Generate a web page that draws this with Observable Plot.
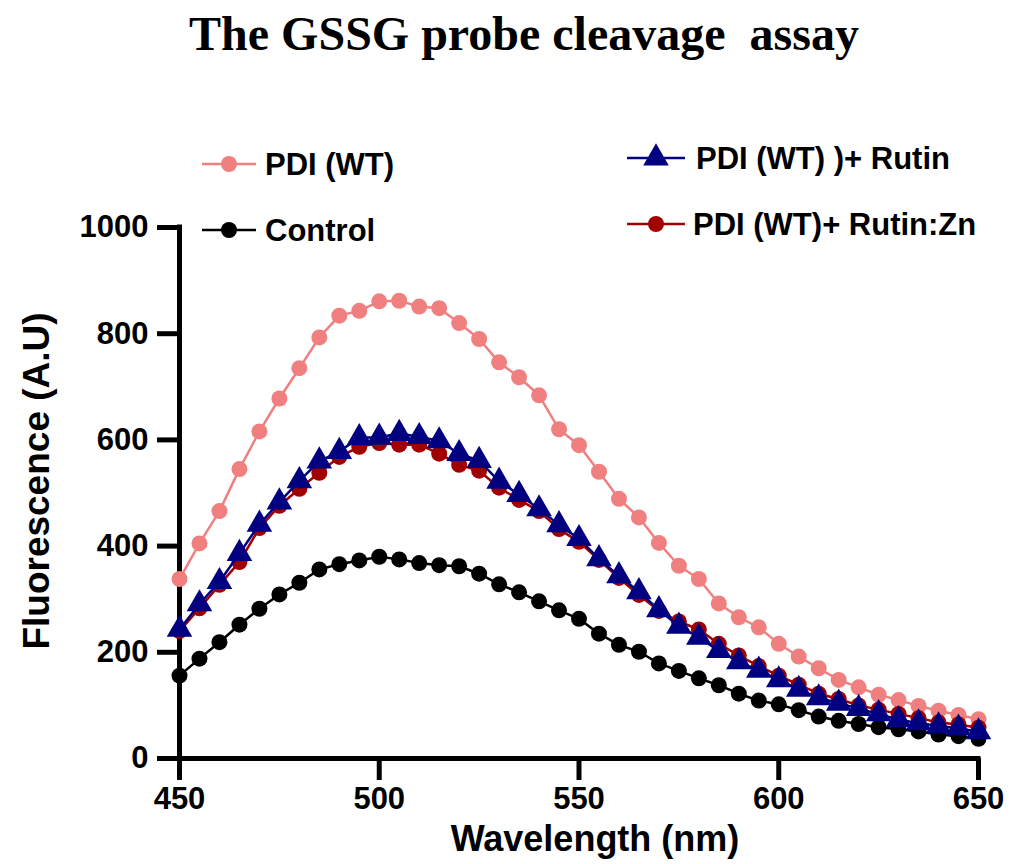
<!DOCTYPE html>
<html>
<head>
<meta charset="utf-8">
<script src="https://cdn.jsdelivr.net/npm/d3@7"></script>
<script src="https://cdn.jsdelivr.net/npm/@observablehq/plot@0.6"></script>
<style>
  html, body { margin: 0; padding: 0; background: #fff; }
</style>
</head>
<body>
<div id="chart"></div>
<script>
const wavelength = [450,455,460,465,470,475,480,485,490,495,500,505,510,515,520,525,530,535,540,545,550,555,560,565,570,575,580,585,590,595,600,605,610,615,620,625,630,635,640,645,650];
const pdiWT = [338,405,466,545,616,678,735,793,834,843,861,862,851,848,820,790,746,718,684,620,590,540,489,454,406,363,338,292,266,247,216,192,170,148,134,120,110,99,90,82,74];
const pdiRutin = [243,291,333,386,441,483,523,560,578,604,605,612,606,598,574,561,522,497,470,440,414,376,344,314,280,249,228,203,182,166,148,130,114,104,94,84,73,67,61,57,50];
const pdiRutinZn = [240,283,327,370,434,476,508,538,568,587,594,591,591,574,553,542,510,487,466,432,408,374,340,308,278,258,243,216,194,174,156,139,122,112,100,92,84,76,68,64,58];
const control = [156,188,219,252,282,309,331,356,366,373,380,375,368,364,362,348,328,313,296,279,263,235,214,201,179,165,151,138,122,109,102,91,79,71,65,59,55,51,45,42,37];

const seriesNames = ["PDI (WT)", "Control", "PDI (WT)+ Rutin:Zn", "PDI (WT) )+ Rutin"];
const seriesValues = [pdiWT, control, pdiRutinZn, pdiRutin];
const seriesColors = ["#F08080", "#000000", "#A00000", "#000080"];
const seriesSymbols = ["circle", "circle", "circle", "triangle"];
const xTicks = [450, 500, 550, 600, 650];
const yTicks = [0, 200, 400, 600, 800, 1000];

const rows = [];
seriesNames.forEach((name, i) => {
  wavelength.forEach((w, j) => rows.push({series: name, wavelength: w, value: seriesValues[i][j]}));
});

const font = "'Liberation Sans', Arial, sans-serif";
const marks = [];
seriesNames.forEach((name, i) => {
  const d = rows.filter(r => r.series === name);
  marks.push(Plot.line(d, {x: "wavelength", y: "value", stroke: seriesColors[i], strokeWidth: 2.5}));
  marks.push(Plot.dot(d, {x: "wavelength", y: "value", fill: seriesColors[i], stroke: "none",
    symbol: seriesSymbols[i], r: seriesSymbols[i] === "triangle" ? 9.5 : 8}));
});

const svg = Plot.plot({
  width: 1010,
  height: 864,
  marginLeft: 179,
  marginRight: 32,
  marginTop: 227,
  marginBottom: 106,
  style: {fontFamily: font, background: "#fff", color: "#000"},
  x: {domain: [450, 650]},
  y: {domain: [0, 1000]},
  marks: [
    Plot.axisX({ticks: xTicks, tickSize: 22, tickPadding: 6, fontSize: 31, fontWeight: "bold", strokeWidth: 5, tickFormat: d3.format("d"), label: null}),
    Plot.axisY({ticks: yTicks, tickSize: 22, tickPadding: 9, fontSize: 31, fontWeight: "bold", strokeWidth: 5, tickFormat: d3.format("d"), label: null}),
    Plot.ruleY([0], {strokeWidth: 5, strokeLinecap: "square"}),
    Plot.ruleX([450], {strokeWidth: 5, strokeLinecap: "square"}),
    ...marks
  ]
});
document.getElementById("chart").appendChild(svg);

const s = d3.select(svg);
// Title
s.append("text")
  .attr("x", 524).attr("y", 33)
  .attr("text-anchor", "middle").attr("dominant-baseline", "central")
  .attr("font-family", "'Liberation Serif', 'Times New Roman', serif")
  .attr("font-weight", "bold").attr("font-size", 48)
  .style("white-space", "pre")
  .text("The GSSG probe cleavage  assay");
// Axis titles
s.append("text")
  .attr("x", 595).attr("y", 838)
  .attr("text-anchor", "middle").attr("dominant-baseline", "central")
  .attr("font-family", font).attr("font-weight", "bold").attr("font-size", 36)
  .text("Wavelength (nm)");
s.append("text")
  .attr("transform", "translate(36,481) rotate(-90)")
  .attr("text-anchor", "middle").attr("dominant-baseline", "central")
  .attr("font-family", font).attr("font-weight", "bold").attr("font-size", 37)
  .text("Fluorescence (A.U)");

// Legend
const legendItems = [
  {i: 0, x: 202, y: 164, tx: 265},
  {i: 1, x: 202, y: 230, tx: 265},
  {i: 3, x: 627, y: 158, tx: 696},
  {i: 2, x: 627, y: 224, tx: 693}
];
const lg = s.append("g").attr("text-anchor", "start");
legendItems.forEach(it => {
  const c = seriesColors[it.i];
  const w = it.x < 400 ? 54 : 58;
  lg.append("line").attr("x1", it.x).attr("x2", it.x + w).attr("y1", it.y).attr("y2", it.y)
    .attr("stroke", c).attr("stroke-width", 2.5);
  const cx = it.x + w / 2;
  if (seriesSymbols[it.i] === "triangle") {
    lg.append("path").attr("d", d3.symbol(d3.symbolTriangle, Math.PI * 9.5 * 9.5)()).attr("transform", `translate(${cx},${it.y})`).attr("fill", c);
  } else {
    lg.append("circle").attr("cx", cx).attr("cy", it.y).attr("r", 8).attr("fill", c);
  }
  lg.append("text").attr("x", it.tx).attr("y", it.y)
    .attr("text-anchor", "start")
    .attr("dominant-baseline", "central")
    .attr("font-family", font).attr("font-weight", "bold").attr("font-size", 31)
    .text(seriesNames[it.i]);
});
</script>
</body>
</html>
